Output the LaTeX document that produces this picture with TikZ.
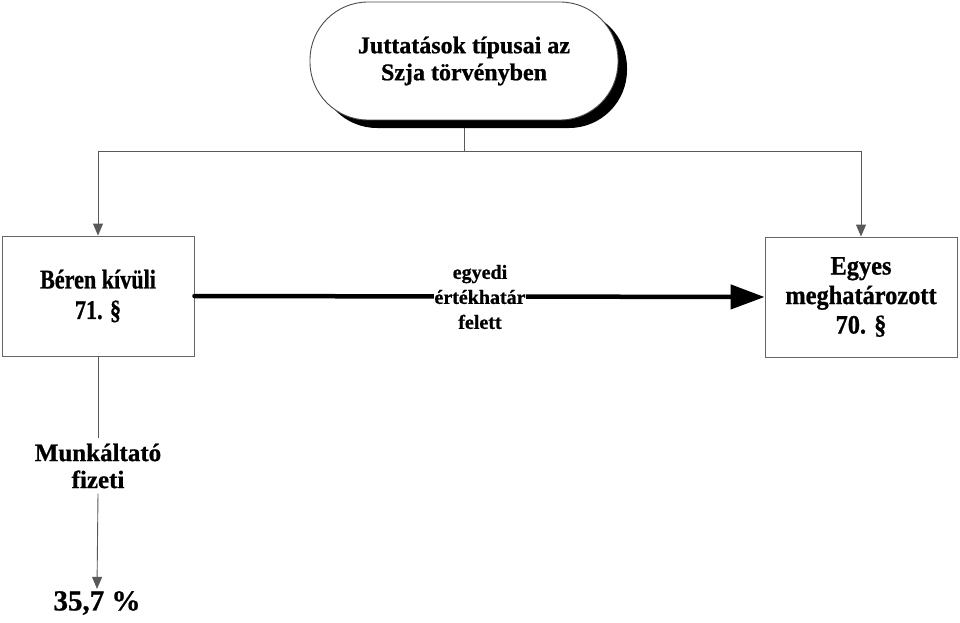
\documentclass[tikz,border=0pt]{standalone}
\usepackage{fontspec}
\setmainfont{Liberation Serif}[BoldFeatures={FakeBold=0.8}]
\newfontfamily\leftfont{Liberation Serif}[FakeStretch=0.82,BoldFeatures={FakeBold=0.8}]
\newfontfamily\rightfont{Liberation Serif}[FakeStretch=0.92,BoldFeatures={FakeBold=0.8}]
\usetikzlibrary{arrows.meta,shadows}
\begin{document}
\begin{tikzpicture}[x=1pt,y=-1pt,
  conn/.style={draw=black!65,line width=0.9pt},
  boxst/.style={draw=black!60,line width=0.9pt,fill=white,minimum width=192pt,minimum height=120pt,align=center},
  tri/.style={-{Triangle[length=12pt,width=10pt]}}
]
\useasboundingbox (0,0) rectangle (960,623);
\node[draw=black!70,line width=0.9pt,fill=white,rounded corners=58pt,minimum width=308pt,minimum height=118pt,align=center,
  font=\fontsize{24}{27}\selectfont\bfseries,
  drop shadow={shadow xshift=9pt,shadow yshift=-8pt,fill=black,opacity=1}] (top) at (464,61) {Juttatások típusai az\\Szja törvényben};
\node[boxst,font=\leftfont\fontsize{27}{30.5}\selectfont\bfseries] (left) at (98,296) {Béren kívüli\\71. §};
\node[boxst,font=\rightfont\fontsize{26.5}{29.5}\selectfont\bfseries] (right) at (861,297) {Egyes\\meghatározott\\70. §};
\coordinate (j) at (464,151);
\draw[conn] (top.south) ++(0,8) -- (j);
\draw[conn,tri] (j) -| (left.north);
\draw[conn,tri] (j) -| (right.north);
\draw[line width=4.5pt,line cap=round,-{Triangle[length=34pt,width=24pt]}] (left.east) -- (right.west);
\node[align=center,fill=white,font=\fontsize{20}{25}\selectfont\bfseries,inner xsep=0.5pt,inner ysep=0pt] (lab) at (480,297) {egyedi\\értékhatár\\felett};
\node[align=center,font=\fontsize{25}{27}\selectfont\bfseries,inner sep=5pt] (mf) at (98,466) {Munkáltató\\fizeti};
\node[font=\fontsize{29}{32}\selectfont\bfseries,inner sep=2pt] (pct) at (97,603) {35,7 \%};
\draw[conn] (left.south) -- (mf.north);
\draw[conn,tri] (mf.south) -- (pct.north);
\end{tikzpicture}
\end{document}
